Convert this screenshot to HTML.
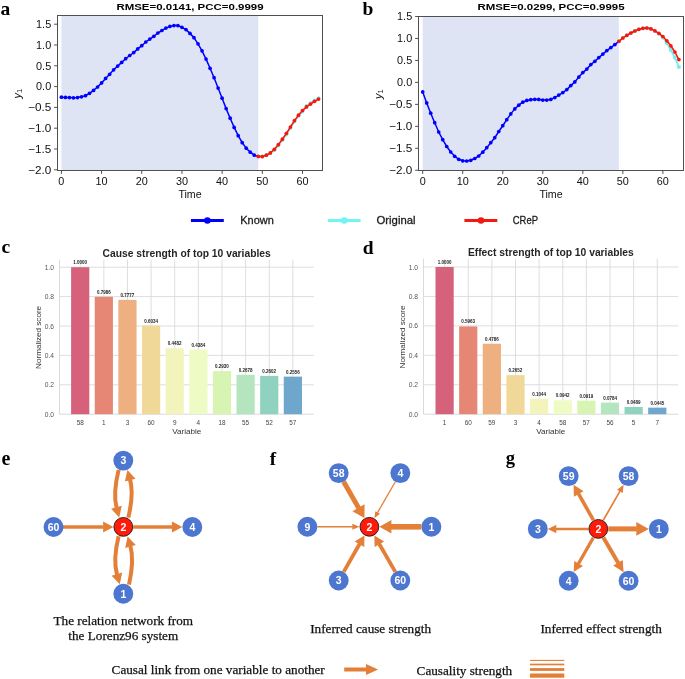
<!DOCTYPE html><html><head><meta charset="utf-8"><style>html,body{margin:0;padding:0;background:#fff;}svg{display:block;will-change:transform;}</style></head><body>
<svg width="685" height="679" viewBox="0 0 685 679">
<rect x="0" y="0" width="685" height="679" fill="#fff"/>
<rect x="61.40" y="15.50" width="196.88" height="155.00" fill="#dfe4f4"/>
<polyline points="258.28,156.40 262.30,156.60 266.32,155.20 270.34,152.90 274.35,150.20 278.37,145.50 282.39,140.10 286.41,134.20 290.43,127.90 294.44,121.50 298.46,116.10 302.48,111.40 306.50,106.10 310.52,103.30 314.53,100.50 318.55,98.30" fill="none" stroke="#6ff0f0" stroke-width="1.8"/>
<circle cx="258.28" cy="156.40" r="2.0" fill="#6ff0f0"/>
<circle cx="262.30" cy="156.60" r="2.0" fill="#6ff0f0"/>
<circle cx="266.32" cy="155.20" r="2.0" fill="#6ff0f0"/>
<circle cx="270.34" cy="152.90" r="2.0" fill="#6ff0f0"/>
<circle cx="274.35" cy="150.20" r="2.0" fill="#6ff0f0"/>
<circle cx="278.37" cy="145.50" r="2.0" fill="#6ff0f0"/>
<circle cx="282.39" cy="140.10" r="2.0" fill="#6ff0f0"/>
<circle cx="286.41" cy="134.20" r="2.0" fill="#6ff0f0"/>
<circle cx="290.43" cy="127.90" r="2.0" fill="#6ff0f0"/>
<circle cx="294.44" cy="121.50" r="2.0" fill="#6ff0f0"/>
<circle cx="298.46" cy="116.10" r="2.0" fill="#6ff0f0"/>
<circle cx="302.48" cy="111.40" r="2.0" fill="#6ff0f0"/>
<circle cx="306.50" cy="106.10" r="2.0" fill="#6ff0f0"/>
<circle cx="310.52" cy="103.30" r="2.0" fill="#6ff0f0"/>
<circle cx="314.53" cy="100.50" r="2.0" fill="#6ff0f0"/>
<circle cx="318.55" cy="98.30" r="2.0" fill="#6ff0f0"/>
<polyline points="61.40,97.20 65.42,97.40 69.44,97.60 73.45,97.80 77.47,97.60 81.49,96.80 85.51,95.70 89.53,93.30 93.54,90.40 97.56,87.00 101.58,82.90 105.60,78.40 109.62,74.30 113.63,69.80 117.65,66.10 121.67,62.40 125.69,58.70 129.71,55.50 133.72,52.60 137.74,48.90 141.76,45.70 145.78,42.00 149.80,39.10 153.81,36.30 157.83,33.00 161.85,30.50 165.87,28.10 169.89,26.40 173.90,25.60 177.92,25.60 181.94,27.30 185.96,29.60 189.98,33.40 193.99,37.70 198.01,43.80 202.03,50.80 206.05,59.10 210.07,68.30 214.08,77.70 218.10,88.10 222.12,98.20 226.14,108.60 230.16,118.20 234.17,127.40 238.19,135.70 242.21,142.70 246.23,148.20 250.25,152.20 254.26,155.20 258.28,156.40" fill="none" stroke="#0000ff" stroke-width="1.5"/>
<circle cx="61.40" cy="97.20" r="1.85" fill="#0000ff"/>
<circle cx="65.42" cy="97.40" r="1.85" fill="#0000ff"/>
<circle cx="69.44" cy="97.60" r="1.85" fill="#0000ff"/>
<circle cx="73.45" cy="97.80" r="1.85" fill="#0000ff"/>
<circle cx="77.47" cy="97.60" r="1.85" fill="#0000ff"/>
<circle cx="81.49" cy="96.80" r="1.85" fill="#0000ff"/>
<circle cx="85.51" cy="95.70" r="1.85" fill="#0000ff"/>
<circle cx="89.53" cy="93.30" r="1.85" fill="#0000ff"/>
<circle cx="93.54" cy="90.40" r="1.85" fill="#0000ff"/>
<circle cx="97.56" cy="87.00" r="1.85" fill="#0000ff"/>
<circle cx="101.58" cy="82.90" r="1.85" fill="#0000ff"/>
<circle cx="105.60" cy="78.40" r="1.85" fill="#0000ff"/>
<circle cx="109.62" cy="74.30" r="1.85" fill="#0000ff"/>
<circle cx="113.63" cy="69.80" r="1.85" fill="#0000ff"/>
<circle cx="117.65" cy="66.10" r="1.85" fill="#0000ff"/>
<circle cx="121.67" cy="62.40" r="1.85" fill="#0000ff"/>
<circle cx="125.69" cy="58.70" r="1.85" fill="#0000ff"/>
<circle cx="129.71" cy="55.50" r="1.85" fill="#0000ff"/>
<circle cx="133.72" cy="52.60" r="1.85" fill="#0000ff"/>
<circle cx="137.74" cy="48.90" r="1.85" fill="#0000ff"/>
<circle cx="141.76" cy="45.70" r="1.85" fill="#0000ff"/>
<circle cx="145.78" cy="42.00" r="1.85" fill="#0000ff"/>
<circle cx="149.80" cy="39.10" r="1.85" fill="#0000ff"/>
<circle cx="153.81" cy="36.30" r="1.85" fill="#0000ff"/>
<circle cx="157.83" cy="33.00" r="1.85" fill="#0000ff"/>
<circle cx="161.85" cy="30.50" r="1.85" fill="#0000ff"/>
<circle cx="165.87" cy="28.10" r="1.85" fill="#0000ff"/>
<circle cx="169.89" cy="26.40" r="1.85" fill="#0000ff"/>
<circle cx="173.90" cy="25.60" r="1.85" fill="#0000ff"/>
<circle cx="177.92" cy="25.60" r="1.85" fill="#0000ff"/>
<circle cx="181.94" cy="27.30" r="1.85" fill="#0000ff"/>
<circle cx="185.96" cy="29.60" r="1.85" fill="#0000ff"/>
<circle cx="189.98" cy="33.40" r="1.85" fill="#0000ff"/>
<circle cx="193.99" cy="37.70" r="1.85" fill="#0000ff"/>
<circle cx="198.01" cy="43.80" r="1.85" fill="#0000ff"/>
<circle cx="202.03" cy="50.80" r="1.85" fill="#0000ff"/>
<circle cx="206.05" cy="59.10" r="1.85" fill="#0000ff"/>
<circle cx="210.07" cy="68.30" r="1.85" fill="#0000ff"/>
<circle cx="214.08" cy="77.70" r="1.85" fill="#0000ff"/>
<circle cx="218.10" cy="88.10" r="1.85" fill="#0000ff"/>
<circle cx="222.12" cy="98.20" r="1.85" fill="#0000ff"/>
<circle cx="226.14" cy="108.60" r="1.85" fill="#0000ff"/>
<circle cx="230.16" cy="118.20" r="1.85" fill="#0000ff"/>
<circle cx="234.17" cy="127.40" r="1.85" fill="#0000ff"/>
<circle cx="238.19" cy="135.70" r="1.85" fill="#0000ff"/>
<circle cx="242.21" cy="142.70" r="1.85" fill="#0000ff"/>
<circle cx="246.23" cy="148.20" r="1.85" fill="#0000ff"/>
<circle cx="250.25" cy="152.20" r="1.85" fill="#0000ff"/>
<circle cx="254.26" cy="155.20" r="1.85" fill="#0000ff"/>
<polyline points="258.28,156.40 262.30,156.60 266.32,155.20 270.34,152.90 274.35,149.30 278.37,144.60 282.39,139.20 286.41,133.30 290.43,127.00 294.44,120.60 298.46,115.20 302.48,110.50 306.50,106.90 310.52,104.10 314.53,101.30 318.55,99.10" fill="none" stroke="#ff1408" stroke-width="1.5"/>
<circle cx="258.28" cy="156.40" r="1.85" fill="#ff1408"/>
<circle cx="262.30" cy="156.60" r="1.85" fill="#ff1408"/>
<circle cx="266.32" cy="155.20" r="1.85" fill="#ff1408"/>
<circle cx="270.34" cy="152.90" r="1.85" fill="#ff1408"/>
<circle cx="274.35" cy="149.30" r="1.85" fill="#ff1408"/>
<circle cx="278.37" cy="144.60" r="1.85" fill="#ff1408"/>
<circle cx="282.39" cy="139.20" r="1.85" fill="#ff1408"/>
<circle cx="286.41" cy="133.30" r="1.85" fill="#ff1408"/>
<circle cx="290.43" cy="127.00" r="1.85" fill="#ff1408"/>
<circle cx="294.44" cy="120.60" r="1.85" fill="#ff1408"/>
<circle cx="298.46" cy="115.20" r="1.85" fill="#ff1408"/>
<circle cx="302.48" cy="110.50" r="1.85" fill="#ff1408"/>
<circle cx="306.50" cy="106.90" r="1.85" fill="#ff1408"/>
<circle cx="310.52" cy="104.10" r="1.85" fill="#ff1408"/>
<circle cx="314.53" cy="101.30" r="1.85" fill="#ff1408"/>
<circle cx="318.55" cy="99.10" r="1.85" fill="#ff1408"/>
<rect x="57.50" y="15.50" width="265.00" height="155.00" fill="none" stroke="#505050" stroke-width="1"/>
<line x1="61.40" y1="170.50" x2="61.40" y2="173.90" stroke="#505050" stroke-width="1"/>
<text x="61.40" y="184.80" font-family='"Liberation Sans", sans-serif' font-size="10.6" font-weight="normal" fill="#111" text-anchor="middle" textLength="6.04" lengthAdjust="spacingAndGlyphs">0</text>
<line x1="101.58" y1="170.50" x2="101.58" y2="173.90" stroke="#505050" stroke-width="1"/>
<text x="101.58" y="184.80" font-family='"Liberation Sans", sans-serif' font-size="10.6" font-weight="normal" fill="#111" text-anchor="middle" textLength="12.09" lengthAdjust="spacingAndGlyphs">10</text>
<line x1="141.76" y1="170.50" x2="141.76" y2="173.90" stroke="#505050" stroke-width="1"/>
<text x="141.76" y="184.80" font-family='"Liberation Sans", sans-serif' font-size="10.6" font-weight="normal" fill="#111" text-anchor="middle" textLength="12.09" lengthAdjust="spacingAndGlyphs">20</text>
<line x1="181.94" y1="170.50" x2="181.94" y2="173.90" stroke="#505050" stroke-width="1"/>
<text x="181.94" y="184.80" font-family='"Liberation Sans", sans-serif' font-size="10.6" font-weight="normal" fill="#111" text-anchor="middle" textLength="12.09" lengthAdjust="spacingAndGlyphs">30</text>
<line x1="222.12" y1="170.50" x2="222.12" y2="173.90" stroke="#505050" stroke-width="1"/>
<text x="222.12" y="184.80" font-family='"Liberation Sans", sans-serif' font-size="10.6" font-weight="normal" fill="#111" text-anchor="middle" textLength="12.09" lengthAdjust="spacingAndGlyphs">40</text>
<line x1="262.30" y1="170.50" x2="262.30" y2="173.90" stroke="#505050" stroke-width="1"/>
<text x="262.30" y="184.80" font-family='"Liberation Sans", sans-serif' font-size="10.6" font-weight="normal" fill="#111" text-anchor="middle" textLength="12.09" lengthAdjust="spacingAndGlyphs">50</text>
<line x1="302.48" y1="170.50" x2="302.48" y2="173.90" stroke="#505050" stroke-width="1"/>
<text x="302.48" y="184.80" font-family='"Liberation Sans", sans-serif' font-size="10.6" font-weight="normal" fill="#111" text-anchor="middle" textLength="12.09" lengthAdjust="spacingAndGlyphs">60</text>
<line x1="54.10" y1="24.20" x2="57.50" y2="24.20" stroke="#505050" stroke-width="1"/>
<text x="51.20" y="27.90" font-family='"Liberation Sans", sans-serif' font-size="10.6" font-weight="normal" fill="#111" text-anchor="end" textLength="15.11" lengthAdjust="spacingAndGlyphs">1.5</text>
<line x1="54.10" y1="45.00" x2="57.50" y2="45.00" stroke="#505050" stroke-width="1"/>
<text x="51.20" y="48.70" font-family='"Liberation Sans", sans-serif' font-size="10.6" font-weight="normal" fill="#111" text-anchor="end" textLength="15.11" lengthAdjust="spacingAndGlyphs">1.0</text>
<line x1="54.10" y1="65.80" x2="57.50" y2="65.80" stroke="#505050" stroke-width="1"/>
<text x="51.20" y="69.50" font-family='"Liberation Sans", sans-serif' font-size="10.6" font-weight="normal" fill="#111" text-anchor="end" textLength="15.11" lengthAdjust="spacingAndGlyphs">0.5</text>
<line x1="54.10" y1="86.60" x2="57.50" y2="86.60" stroke="#505050" stroke-width="1"/>
<text x="51.20" y="90.30" font-family='"Liberation Sans", sans-serif' font-size="10.6" font-weight="normal" fill="#111" text-anchor="end" textLength="15.11" lengthAdjust="spacingAndGlyphs">0.0</text>
<line x1="54.10" y1="107.40" x2="57.50" y2="107.40" stroke="#505050" stroke-width="1"/>
<text x="51.20" y="111.10" font-family='"Liberation Sans", sans-serif' font-size="10.6" font-weight="normal" fill="#111" text-anchor="end" textLength="23.07" lengthAdjust="spacingAndGlyphs">−0.5</text>
<line x1="54.10" y1="128.20" x2="57.50" y2="128.20" stroke="#505050" stroke-width="1"/>
<text x="51.20" y="131.90" font-family='"Liberation Sans", sans-serif' font-size="10.6" font-weight="normal" fill="#111" text-anchor="end" textLength="23.07" lengthAdjust="spacingAndGlyphs">−1.0</text>
<line x1="54.10" y1="149.00" x2="57.50" y2="149.00" stroke="#505050" stroke-width="1"/>
<text x="51.20" y="152.70" font-family='"Liberation Sans", sans-serif' font-size="10.6" font-weight="normal" fill="#111" text-anchor="end" textLength="23.07" lengthAdjust="spacingAndGlyphs">−1.5</text>
<line x1="54.10" y1="169.80" x2="57.50" y2="169.80" stroke="#505050" stroke-width="1"/>
<text x="51.20" y="173.50" font-family='"Liberation Sans", sans-serif' font-size="10.6" font-weight="normal" fill="#111" text-anchor="end" textLength="23.07" lengthAdjust="spacingAndGlyphs">−2.0</text>
<text x="190.00" y="197.50" font-family='"Liberation Sans", sans-serif' font-size="10.6" font-weight="normal" fill="#111" text-anchor="middle" textLength="23.25" lengthAdjust="spacingAndGlyphs">Time</text>
<text x="190.00" y="10.10" font-family='"Liberation Sans", sans-serif' font-size="9.9" font-weight="bold" fill="#000" text-anchor="middle" textLength="147.16" lengthAdjust="spacingAndGlyphs">RMSE=0.0141, PCC=0.9999</text>
<g transform="translate(21.20,93.60) rotate(-90)"><text x="0" y="0" font-family='"Liberation Sans", sans-serif' font-style="italic" font-size="11" fill="#111" text-anchor="middle">y<tspan font-size="7.6" font-style="normal" dy="0.6">1</tspan></text></g>
<text x="0.60" y="14.80" font-family='"Liberation Serif", serif' font-size="19.5" font-weight="bold" fill="#000" text-anchor="start">a</text>
<rect x="422.70" y="16.50" width="196.15" height="154.00" fill="#dfe4f4"/>
<polyline points="618.85,41.30 622.85,38.00 626.85,35.30 630.86,33.00 634.86,31.00 638.86,29.30 642.87,28.30 646.87,28.00 650.87,28.80 654.87,31.00 658.88,33.80 662.88,37.50 666.88,43.30 670.89,50.00 674.89,57.60 678.89,67.10" fill="none" stroke="#6ff0f0" stroke-width="1.8"/>
<circle cx="618.85" cy="41.30" r="2.0" fill="#6ff0f0"/>
<circle cx="622.85" cy="38.00" r="2.0" fill="#6ff0f0"/>
<circle cx="626.85" cy="35.30" r="2.0" fill="#6ff0f0"/>
<circle cx="630.86" cy="33.00" r="2.0" fill="#6ff0f0"/>
<circle cx="634.86" cy="31.00" r="2.0" fill="#6ff0f0"/>
<circle cx="638.86" cy="29.30" r="2.0" fill="#6ff0f0"/>
<circle cx="642.87" cy="28.30" r="2.0" fill="#6ff0f0"/>
<circle cx="646.87" cy="28.00" r="2.0" fill="#6ff0f0"/>
<circle cx="650.87" cy="28.80" r="2.0" fill="#6ff0f0"/>
<circle cx="654.87" cy="31.00" r="2.0" fill="#6ff0f0"/>
<circle cx="658.88" cy="33.80" r="2.0" fill="#6ff0f0"/>
<circle cx="662.88" cy="37.50" r="2.0" fill="#6ff0f0"/>
<circle cx="666.88" cy="43.30" r="2.0" fill="#6ff0f0"/>
<circle cx="670.89" cy="50.00" r="2.0" fill="#6ff0f0"/>
<circle cx="674.89" cy="57.60" r="2.0" fill="#6ff0f0"/>
<circle cx="678.89" cy="67.10" r="2.0" fill="#6ff0f0"/>
<polyline points="422.70,91.90 426.70,102.90 430.71,113.20 434.71,122.70 438.71,132.00 442.71,139.70 446.72,146.50 450.72,152.00 454.72,156.30 458.73,159.30 462.73,160.80 466.73,161.00 470.74,160.30 474.74,158.50 478.74,156.00 482.75,152.20 486.75,147.70 490.75,142.70 494.75,137.70 498.76,131.50 502.76,125.70 506.76,119.70 510.77,113.90 514.77,108.90 518.77,105.20 522.77,102.20 526.78,100.40 530.78,99.70 534.78,99.30 538.79,99.40 542.79,100.10 546.79,100.10 550.80,99.40 554.80,97.60 558.80,95.10 562.81,92.60 566.81,89.60 570.81,85.60 574.81,81.90 578.82,77.10 582.82,72.60 586.82,69.10 590.83,64.60 594.83,61.30 598.83,57.60 602.84,54.10 606.84,50.60 610.84,47.60 614.84,44.60 618.85,41.30" fill="none" stroke="#0000ff" stroke-width="1.5"/>
<circle cx="422.70" cy="91.90" r="1.85" fill="#0000ff"/>
<circle cx="426.70" cy="102.90" r="1.85" fill="#0000ff"/>
<circle cx="430.71" cy="113.20" r="1.85" fill="#0000ff"/>
<circle cx="434.71" cy="122.70" r="1.85" fill="#0000ff"/>
<circle cx="438.71" cy="132.00" r="1.85" fill="#0000ff"/>
<circle cx="442.71" cy="139.70" r="1.85" fill="#0000ff"/>
<circle cx="446.72" cy="146.50" r="1.85" fill="#0000ff"/>
<circle cx="450.72" cy="152.00" r="1.85" fill="#0000ff"/>
<circle cx="454.72" cy="156.30" r="1.85" fill="#0000ff"/>
<circle cx="458.73" cy="159.30" r="1.85" fill="#0000ff"/>
<circle cx="462.73" cy="160.80" r="1.85" fill="#0000ff"/>
<circle cx="466.73" cy="161.00" r="1.85" fill="#0000ff"/>
<circle cx="470.74" cy="160.30" r="1.85" fill="#0000ff"/>
<circle cx="474.74" cy="158.50" r="1.85" fill="#0000ff"/>
<circle cx="478.74" cy="156.00" r="1.85" fill="#0000ff"/>
<circle cx="482.75" cy="152.20" r="1.85" fill="#0000ff"/>
<circle cx="486.75" cy="147.70" r="1.85" fill="#0000ff"/>
<circle cx="490.75" cy="142.70" r="1.85" fill="#0000ff"/>
<circle cx="494.75" cy="137.70" r="1.85" fill="#0000ff"/>
<circle cx="498.76" cy="131.50" r="1.85" fill="#0000ff"/>
<circle cx="502.76" cy="125.70" r="1.85" fill="#0000ff"/>
<circle cx="506.76" cy="119.70" r="1.85" fill="#0000ff"/>
<circle cx="510.77" cy="113.90" r="1.85" fill="#0000ff"/>
<circle cx="514.77" cy="108.90" r="1.85" fill="#0000ff"/>
<circle cx="518.77" cy="105.20" r="1.85" fill="#0000ff"/>
<circle cx="522.77" cy="102.20" r="1.85" fill="#0000ff"/>
<circle cx="526.78" cy="100.40" r="1.85" fill="#0000ff"/>
<circle cx="530.78" cy="99.70" r="1.85" fill="#0000ff"/>
<circle cx="534.78" cy="99.30" r="1.85" fill="#0000ff"/>
<circle cx="538.79" cy="99.40" r="1.85" fill="#0000ff"/>
<circle cx="542.79" cy="100.10" r="1.85" fill="#0000ff"/>
<circle cx="546.79" cy="100.10" r="1.85" fill="#0000ff"/>
<circle cx="550.80" cy="99.40" r="1.85" fill="#0000ff"/>
<circle cx="554.80" cy="97.60" r="1.85" fill="#0000ff"/>
<circle cx="558.80" cy="95.10" r="1.85" fill="#0000ff"/>
<circle cx="562.81" cy="92.60" r="1.85" fill="#0000ff"/>
<circle cx="566.81" cy="89.60" r="1.85" fill="#0000ff"/>
<circle cx="570.81" cy="85.60" r="1.85" fill="#0000ff"/>
<circle cx="574.81" cy="81.90" r="1.85" fill="#0000ff"/>
<circle cx="578.82" cy="77.10" r="1.85" fill="#0000ff"/>
<circle cx="582.82" cy="72.60" r="1.85" fill="#0000ff"/>
<circle cx="586.82" cy="69.10" r="1.85" fill="#0000ff"/>
<circle cx="590.83" cy="64.60" r="1.85" fill="#0000ff"/>
<circle cx="594.83" cy="61.30" r="1.85" fill="#0000ff"/>
<circle cx="598.83" cy="57.60" r="1.85" fill="#0000ff"/>
<circle cx="602.84" cy="54.10" r="1.85" fill="#0000ff"/>
<circle cx="606.84" cy="50.60" r="1.85" fill="#0000ff"/>
<circle cx="610.84" cy="47.60" r="1.85" fill="#0000ff"/>
<circle cx="614.84" cy="44.60" r="1.85" fill="#0000ff"/>
<polyline points="618.85,41.30 622.85,38.00 626.85,35.30 630.86,33.00 634.86,31.00 638.86,29.30 642.87,28.30 646.87,28.00 650.87,28.80 654.87,30.80 658.88,33.30 662.88,36.50 666.88,40.80 670.89,45.80 674.89,52.00 678.89,59.60" fill="none" stroke="#ff1408" stroke-width="1.5"/>
<circle cx="618.85" cy="41.30" r="1.85" fill="#ff1408"/>
<circle cx="622.85" cy="38.00" r="1.85" fill="#ff1408"/>
<circle cx="626.85" cy="35.30" r="1.85" fill="#ff1408"/>
<circle cx="630.86" cy="33.00" r="1.85" fill="#ff1408"/>
<circle cx="634.86" cy="31.00" r="1.85" fill="#ff1408"/>
<circle cx="638.86" cy="29.30" r="1.85" fill="#ff1408"/>
<circle cx="642.87" cy="28.30" r="1.85" fill="#ff1408"/>
<circle cx="646.87" cy="28.00" r="1.85" fill="#ff1408"/>
<circle cx="650.87" cy="28.80" r="1.85" fill="#ff1408"/>
<circle cx="654.87" cy="30.80" r="1.85" fill="#ff1408"/>
<circle cx="658.88" cy="33.30" r="1.85" fill="#ff1408"/>
<circle cx="662.88" cy="36.50" r="1.85" fill="#ff1408"/>
<circle cx="666.88" cy="40.80" r="1.85" fill="#ff1408"/>
<circle cx="670.89" cy="45.80" r="1.85" fill="#ff1408"/>
<circle cx="674.89" cy="52.00" r="1.85" fill="#ff1408"/>
<circle cx="678.89" cy="59.60" r="1.85" fill="#ff1408"/>
<rect x="418.50" y="16.50" width="265.00" height="154.00" fill="none" stroke="#505050" stroke-width="1"/>
<line x1="422.70" y1="170.50" x2="422.70" y2="173.90" stroke="#505050" stroke-width="1"/>
<text x="422.70" y="184.80" font-family='"Liberation Sans", sans-serif' font-size="10.6" font-weight="normal" fill="#111" text-anchor="middle" textLength="6.04" lengthAdjust="spacingAndGlyphs">0</text>
<line x1="462.73" y1="170.50" x2="462.73" y2="173.90" stroke="#505050" stroke-width="1"/>
<text x="462.73" y="184.80" font-family='"Liberation Sans", sans-serif' font-size="10.6" font-weight="normal" fill="#111" text-anchor="middle" textLength="12.09" lengthAdjust="spacingAndGlyphs">10</text>
<line x1="502.76" y1="170.50" x2="502.76" y2="173.90" stroke="#505050" stroke-width="1"/>
<text x="502.76" y="184.80" font-family='"Liberation Sans", sans-serif' font-size="10.6" font-weight="normal" fill="#111" text-anchor="middle" textLength="12.09" lengthAdjust="spacingAndGlyphs">20</text>
<line x1="542.79" y1="170.50" x2="542.79" y2="173.90" stroke="#505050" stroke-width="1"/>
<text x="542.79" y="184.80" font-family='"Liberation Sans", sans-serif' font-size="10.6" font-weight="normal" fill="#111" text-anchor="middle" textLength="12.09" lengthAdjust="spacingAndGlyphs">30</text>
<line x1="582.82" y1="170.50" x2="582.82" y2="173.90" stroke="#505050" stroke-width="1"/>
<text x="582.82" y="184.80" font-family='"Liberation Sans", sans-serif' font-size="10.6" font-weight="normal" fill="#111" text-anchor="middle" textLength="12.09" lengthAdjust="spacingAndGlyphs">40</text>
<line x1="622.85" y1="170.50" x2="622.85" y2="173.90" stroke="#505050" stroke-width="1"/>
<text x="622.85" y="184.80" font-family='"Liberation Sans", sans-serif' font-size="10.6" font-weight="normal" fill="#111" text-anchor="middle" textLength="12.09" lengthAdjust="spacingAndGlyphs">50</text>
<line x1="662.88" y1="170.50" x2="662.88" y2="173.90" stroke="#505050" stroke-width="1"/>
<text x="662.88" y="184.80" font-family='"Liberation Sans", sans-serif' font-size="10.6" font-weight="normal" fill="#111" text-anchor="middle" textLength="12.09" lengthAdjust="spacingAndGlyphs">60</text>
<line x1="415.10" y1="16.49" x2="418.50" y2="16.49" stroke="#505050" stroke-width="1"/>
<text x="412.20" y="20.19" font-family='"Liberation Sans", sans-serif' font-size="10.6" font-weight="normal" fill="#111" text-anchor="end" textLength="15.11" lengthAdjust="spacingAndGlyphs">1.5</text>
<line x1="415.10" y1="38.46" x2="418.50" y2="38.46" stroke="#505050" stroke-width="1"/>
<text x="412.20" y="42.16" font-family='"Liberation Sans", sans-serif' font-size="10.6" font-weight="normal" fill="#111" text-anchor="end" textLength="15.11" lengthAdjust="spacingAndGlyphs">1.0</text>
<line x1="415.10" y1="60.43" x2="418.50" y2="60.43" stroke="#505050" stroke-width="1"/>
<text x="412.20" y="64.13" font-family='"Liberation Sans", sans-serif' font-size="10.6" font-weight="normal" fill="#111" text-anchor="end" textLength="15.11" lengthAdjust="spacingAndGlyphs">0.5</text>
<line x1="415.10" y1="82.40" x2="418.50" y2="82.40" stroke="#505050" stroke-width="1"/>
<text x="412.20" y="86.10" font-family='"Liberation Sans", sans-serif' font-size="10.6" font-weight="normal" fill="#111" text-anchor="end" textLength="15.11" lengthAdjust="spacingAndGlyphs">0.0</text>
<line x1="415.10" y1="104.37" x2="418.50" y2="104.37" stroke="#505050" stroke-width="1"/>
<text x="412.20" y="108.07" font-family='"Liberation Sans", sans-serif' font-size="10.6" font-weight="normal" fill="#111" text-anchor="end" textLength="23.07" lengthAdjust="spacingAndGlyphs">−0.5</text>
<line x1="415.10" y1="126.34" x2="418.50" y2="126.34" stroke="#505050" stroke-width="1"/>
<text x="412.20" y="130.04" font-family='"Liberation Sans", sans-serif' font-size="10.6" font-weight="normal" fill="#111" text-anchor="end" textLength="23.07" lengthAdjust="spacingAndGlyphs">−1.0</text>
<line x1="415.10" y1="148.31" x2="418.50" y2="148.31" stroke="#505050" stroke-width="1"/>
<text x="412.20" y="152.01" font-family='"Liberation Sans", sans-serif' font-size="10.6" font-weight="normal" fill="#111" text-anchor="end" textLength="23.07" lengthAdjust="spacingAndGlyphs">−1.5</text>
<line x1="415.10" y1="170.28" x2="418.50" y2="170.28" stroke="#505050" stroke-width="1"/>
<text x="412.20" y="173.98" font-family='"Liberation Sans", sans-serif' font-size="10.6" font-weight="normal" fill="#111" text-anchor="end" textLength="23.07" lengthAdjust="spacingAndGlyphs">−2.0</text>
<text x="551.00" y="197.50" font-family='"Liberation Sans", sans-serif' font-size="10.6" font-weight="normal" fill="#111" text-anchor="middle" textLength="23.25" lengthAdjust="spacingAndGlyphs">Time</text>
<text x="551.00" y="10.10" font-family='"Liberation Sans", sans-serif' font-size="9.9" font-weight="bold" fill="#000" text-anchor="middle" textLength="147.16" lengthAdjust="spacingAndGlyphs">RMSE=0.0299, PCC=0.9995</text>
<g transform="translate(382.20,94.10) rotate(-90)"><text x="0" y="0" font-family='"Liberation Sans", sans-serif' font-style="italic" font-size="11" fill="#111" text-anchor="middle">y<tspan font-size="7.6" font-style="normal" dy="0.6">1</tspan></text></g>
<text x="362.50" y="14.60" font-family='"Liberation Serif", serif' font-size="19.5" font-weight="bold" fill="#000" text-anchor="start">b</text>
<line x1="190.9" y1="220.5" x2="223.8" y2="220.5" stroke="#0000ff" stroke-width="3.2"/>
<circle cx="207.4" cy="220.5" r="3.3" fill="#0000ff"/>
<text x="240.20" y="223.90" font-family='"Liberation Sans", sans-serif' font-size="11.6" font-weight="normal" fill="#1a1a1a" text-anchor="start" textLength="33.60" lengthAdjust="spacingAndGlyphs" stroke="#1a1a1a" stroke-width="0.3">Known</text>
<line x1="327.8" y1="220.5" x2="360.6" y2="220.5" stroke="#70f4f4" stroke-width="3.2"/>
<circle cx="344.3" cy="220.5" r="3.3" fill="#70f4f4"/>
<text x="376.50" y="223.90" font-family='"Liberation Sans", sans-serif' font-size="11.6" font-weight="normal" fill="#1a1a1a" text-anchor="start" textLength="39.00" lengthAdjust="spacingAndGlyphs" stroke="#1a1a1a" stroke-width="0.3">Original</text>
<line x1="464.4" y1="220.5" x2="497.3" y2="220.5" stroke="#f01a10" stroke-width="3.2"/>
<circle cx="481.0" cy="220.5" r="3.3" fill="#f01a10"/>
<text x="512.80" y="223.90" font-family='"Liberation Sans", sans-serif' font-size="11.6" font-weight="normal" fill="#1a1a1a" text-anchor="start" textLength="25.20" lengthAdjust="spacingAndGlyphs" stroke="#1a1a1a" stroke-width="0.3">CReP</text>
<line x1="59.50" y1="384.80" x2="313.90" y2="384.80" stroke="#dadada" stroke-width="0.9"/>
<line x1="59.50" y1="355.40" x2="313.90" y2="355.40" stroke="#dadada" stroke-width="0.9"/>
<line x1="59.50" y1="326.00" x2="313.90" y2="326.00" stroke="#dadada" stroke-width="0.9"/>
<line x1="59.50" y1="296.60" x2="313.90" y2="296.60" stroke="#dadada" stroke-width="0.9"/>
<line x1="59.50" y1="267.20" x2="313.90" y2="267.20" stroke="#dadada" stroke-width="0.9"/>
<line x1="80.20" y1="259.60" x2="80.20" y2="414.20" stroke="#dadada" stroke-width="0.9"/>
<line x1="103.83" y1="259.60" x2="103.83" y2="414.20" stroke="#dadada" stroke-width="0.9"/>
<line x1="127.46" y1="259.60" x2="127.46" y2="414.20" stroke="#dadada" stroke-width="0.9"/>
<line x1="151.09" y1="259.60" x2="151.09" y2="414.20" stroke="#dadada" stroke-width="0.9"/>
<line x1="174.72" y1="259.60" x2="174.72" y2="414.20" stroke="#dadada" stroke-width="0.9"/>
<line x1="198.35" y1="259.60" x2="198.35" y2="414.20" stroke="#dadada" stroke-width="0.9"/>
<line x1="221.98" y1="259.60" x2="221.98" y2="414.20" stroke="#dadada" stroke-width="0.9"/>
<line x1="245.61" y1="259.60" x2="245.61" y2="414.20" stroke="#dadada" stroke-width="0.9"/>
<line x1="269.24" y1="259.60" x2="269.24" y2="414.20" stroke="#dadada" stroke-width="0.9"/>
<line x1="292.87" y1="259.60" x2="292.87" y2="414.20" stroke="#dadada" stroke-width="0.9"/>
<line x1="59.50" y1="259.60" x2="59.50" y2="414.20" stroke="#dadada" stroke-width="1"/>
<line x1="59.50" y1="414.20" x2="313.90" y2="414.20" stroke="#dadada" stroke-width="1"/>
<rect x="71.10" y="267.20" width="18.20" height="147.00" fill="#d5627a"/>
<text x="80.20" y="264.20" font-family='"Liberation Sans", sans-serif' font-size="4.5" font-weight="bold" fill="#222" text-anchor="middle">1.0000</text>
<text x="80.20" y="425.00" font-family='"Liberation Sans", sans-serif' font-size="6.4" font-weight="normal" fill="#444" text-anchor="middle">58</text>
<rect x="94.73" y="296.81" width="18.20" height="117.39" fill="#e68674"/>
<text x="103.83" y="293.81" font-family='"Liberation Sans", sans-serif' font-size="4.5" font-weight="bold" fill="#222" text-anchor="middle">0.7986</text>
<text x="103.83" y="425.00" font-family='"Liberation Sans", sans-serif' font-size="6.4" font-weight="normal" fill="#444" text-anchor="middle">1</text>
<rect x="118.36" y="299.88" width="18.20" height="114.32" fill="#eeb080"/>
<text x="127.46" y="296.88" font-family='"Liberation Sans", sans-serif' font-size="4.5" font-weight="bold" fill="#222" text-anchor="middle">0.7777</text>
<text x="127.46" y="425.00" font-family='"Liberation Sans", sans-serif' font-size="6.4" font-weight="normal" fill="#444" text-anchor="middle">3</text>
<rect x="141.99" y="325.50" width="18.20" height="88.70" fill="#f0d898"/>
<text x="151.09" y="322.50" font-family='"Liberation Sans", sans-serif' font-size="4.5" font-weight="bold" fill="#222" text-anchor="middle">0.6034</text>
<text x="151.09" y="425.00" font-family='"Liberation Sans", sans-serif' font-size="6.4" font-weight="normal" fill="#444" text-anchor="middle">60</text>
<rect x="165.62" y="348.31" width="18.20" height="65.89" fill="#f3f4bb"/>
<text x="174.72" y="345.31" font-family='"Liberation Sans", sans-serif' font-size="4.5" font-weight="bold" fill="#222" text-anchor="middle">0.4482</text>
<text x="174.72" y="425.00" font-family='"Liberation Sans", sans-serif' font-size="6.4" font-weight="normal" fill="#444" text-anchor="middle">9</text>
<rect x="189.25" y="349.76" width="18.20" height="64.44" fill="#eefbc4"/>
<text x="198.35" y="346.76" font-family='"Liberation Sans", sans-serif' font-size="4.5" font-weight="bold" fill="#222" text-anchor="middle">0.4384</text>
<text x="198.35" y="425.00" font-family='"Liberation Sans", sans-serif' font-size="6.4" font-weight="normal" fill="#444" text-anchor="middle">4</text>
<rect x="212.88" y="371.13" width="18.20" height="43.07" fill="#d8f4b2"/>
<text x="221.98" y="368.13" font-family='"Liberation Sans", sans-serif' font-size="4.5" font-weight="bold" fill="#222" text-anchor="middle">0.2930</text>
<text x="221.98" y="425.00" font-family='"Liberation Sans", sans-serif' font-size="6.4" font-weight="normal" fill="#444" text-anchor="middle">18</text>
<rect x="236.51" y="374.83" width="18.20" height="39.37" fill="#b4e5be"/>
<text x="245.61" y="371.83" font-family='"Liberation Sans", sans-serif' font-size="4.5" font-weight="bold" fill="#222" text-anchor="middle">0.2678</text>
<text x="245.61" y="425.00" font-family='"Liberation Sans", sans-serif' font-size="6.4" font-weight="normal" fill="#444" text-anchor="middle">55</text>
<rect x="260.14" y="375.95" width="18.20" height="38.25" fill="#8fd2bf"/>
<text x="269.24" y="372.95" font-family='"Liberation Sans", sans-serif' font-size="4.5" font-weight="bold" fill="#222" text-anchor="middle">0.2602</text>
<text x="269.24" y="425.00" font-family='"Liberation Sans", sans-serif' font-size="6.4" font-weight="normal" fill="#444" text-anchor="middle">52</text>
<rect x="283.77" y="376.63" width="18.20" height="37.57" fill="#6fa6cb"/>
<text x="292.87" y="373.63" font-family='"Liberation Sans", sans-serif' font-size="4.5" font-weight="bold" fill="#222" text-anchor="middle">0.2556</text>
<text x="292.87" y="425.00" font-family='"Liberation Sans", sans-serif' font-size="6.4" font-weight="normal" fill="#444" text-anchor="middle">57</text>
<text x="54.00" y="416.70" font-family='"Liberation Sans", sans-serif' font-size="6.7" font-weight="normal" fill="#555" text-anchor="end">0.0</text>
<text x="54.00" y="387.30" font-family='"Liberation Sans", sans-serif' font-size="6.7" font-weight="normal" fill="#555" text-anchor="end">0.2</text>
<text x="54.00" y="357.90" font-family='"Liberation Sans", sans-serif' font-size="6.7" font-weight="normal" fill="#555" text-anchor="end">0.4</text>
<text x="54.00" y="328.50" font-family='"Liberation Sans", sans-serif' font-size="6.7" font-weight="normal" fill="#555" text-anchor="end">0.6</text>
<text x="54.00" y="299.10" font-family='"Liberation Sans", sans-serif' font-size="6.7" font-weight="normal" fill="#555" text-anchor="end">0.8</text>
<text x="54.00" y="269.70" font-family='"Liberation Sans", sans-serif' font-size="6.7" font-weight="normal" fill="#555" text-anchor="end">1.0</text>
<text x="186.70" y="433.80" font-family='"Liberation Sans", sans-serif' font-size="8.1" font-weight="normal" fill="#333" text-anchor="middle">Variable</text>
<g transform="translate(41.00,337.40) rotate(-90)"><text x="0" y="0" font-family='"Liberation Sans", sans-serif' font-size="8.1" fill="#333" text-anchor="middle">Normalized score</text></g>
<text x="186.70" y="256.60" font-family='"Liberation Sans", sans-serif' font-size="10.3" font-weight="bold" fill="#262626" text-anchor="middle">Cause strength of top 10 variables</text>
<text x="1.50" y="253.30" font-family='"Liberation Serif", serif' font-size="19.5" font-weight="bold" fill="#000" text-anchor="start">c</text>
<line x1="423.50" y1="384.76" x2="678.20" y2="384.76" stroke="#dadada" stroke-width="0.9"/>
<line x1="423.50" y1="355.32" x2="678.20" y2="355.32" stroke="#dadada" stroke-width="0.9"/>
<line x1="423.50" y1="325.88" x2="678.20" y2="325.88" stroke="#dadada" stroke-width="0.9"/>
<line x1="423.50" y1="296.44" x2="678.20" y2="296.44" stroke="#dadada" stroke-width="0.9"/>
<line x1="423.50" y1="267.00" x2="678.20" y2="267.00" stroke="#dadada" stroke-width="0.9"/>
<line x1="444.60" y1="258.70" x2="444.60" y2="414.20" stroke="#dadada" stroke-width="0.9"/>
<line x1="468.23" y1="258.70" x2="468.23" y2="414.20" stroke="#dadada" stroke-width="0.9"/>
<line x1="491.86" y1="258.70" x2="491.86" y2="414.20" stroke="#dadada" stroke-width="0.9"/>
<line x1="515.49" y1="258.70" x2="515.49" y2="414.20" stroke="#dadada" stroke-width="0.9"/>
<line x1="539.12" y1="258.70" x2="539.12" y2="414.20" stroke="#dadada" stroke-width="0.9"/>
<line x1="562.75" y1="258.70" x2="562.75" y2="414.20" stroke="#dadada" stroke-width="0.9"/>
<line x1="586.38" y1="258.70" x2="586.38" y2="414.20" stroke="#dadada" stroke-width="0.9"/>
<line x1="610.01" y1="258.70" x2="610.01" y2="414.20" stroke="#dadada" stroke-width="0.9"/>
<line x1="633.64" y1="258.70" x2="633.64" y2="414.20" stroke="#dadada" stroke-width="0.9"/>
<line x1="657.27" y1="258.70" x2="657.27" y2="414.20" stroke="#dadada" stroke-width="0.9"/>
<line x1="423.50" y1="258.70" x2="423.50" y2="414.20" stroke="#dadada" stroke-width="1"/>
<line x1="423.50" y1="414.20" x2="678.20" y2="414.20" stroke="#dadada" stroke-width="1"/>
<rect x="435.50" y="267.00" width="18.20" height="147.20" fill="#d5627a"/>
<text x="444.60" y="264.00" font-family='"Liberation Sans", sans-serif' font-size="4.5" font-weight="bold" fill="#222" text-anchor="middle">1.0000</text>
<text x="444.60" y="425.00" font-family='"Liberation Sans", sans-serif' font-size="6.4" font-weight="normal" fill="#444" text-anchor="middle">1</text>
<rect x="459.13" y="326.42" width="18.20" height="87.78" fill="#e68674"/>
<text x="468.23" y="323.42" font-family='"Liberation Sans", sans-serif' font-size="4.5" font-weight="bold" fill="#222" text-anchor="middle">0.5963</text>
<text x="468.23" y="425.00" font-family='"Liberation Sans", sans-serif' font-size="6.4" font-weight="normal" fill="#444" text-anchor="middle">60</text>
<rect x="482.76" y="343.75" width="18.20" height="70.45" fill="#eeb080"/>
<text x="491.86" y="340.75" font-family='"Liberation Sans", sans-serif' font-size="4.5" font-weight="bold" fill="#222" text-anchor="middle">0.4786</text>
<text x="491.86" y="425.00" font-family='"Liberation Sans", sans-serif' font-size="6.4" font-weight="normal" fill="#444" text-anchor="middle">59</text>
<rect x="506.39" y="375.16" width="18.20" height="39.04" fill="#f0d898"/>
<text x="515.49" y="372.16" font-family='"Liberation Sans", sans-serif' font-size="4.5" font-weight="bold" fill="#222" text-anchor="middle">0.2652</text>
<text x="515.49" y="425.00" font-family='"Liberation Sans", sans-serif' font-size="6.4" font-weight="normal" fill="#444" text-anchor="middle">3</text>
<rect x="530.02" y="398.83" width="18.20" height="15.37" fill="#f3f4bb"/>
<text x="539.12" y="395.83" font-family='"Liberation Sans", sans-serif' font-size="4.5" font-weight="bold" fill="#222" text-anchor="middle">0.1044</text>
<text x="539.12" y="425.00" font-family='"Liberation Sans", sans-serif' font-size="6.4" font-weight="normal" fill="#444" text-anchor="middle">4</text>
<rect x="553.65" y="400.33" width="18.20" height="13.87" fill="#eefbc4"/>
<text x="562.75" y="397.33" font-family='"Liberation Sans", sans-serif' font-size="4.5" font-weight="bold" fill="#222" text-anchor="middle">0.0942</text>
<text x="562.75" y="425.00" font-family='"Liberation Sans", sans-serif' font-size="6.4" font-weight="normal" fill="#444" text-anchor="middle">58</text>
<rect x="577.28" y="400.67" width="18.20" height="13.53" fill="#d8f4b2"/>
<text x="586.38" y="397.67" font-family='"Liberation Sans", sans-serif' font-size="4.5" font-weight="bold" fill="#222" text-anchor="middle">0.0919</text>
<text x="586.38" y="425.00" font-family='"Liberation Sans", sans-serif' font-size="6.4" font-weight="normal" fill="#444" text-anchor="middle">57</text>
<rect x="600.91" y="402.66" width="18.20" height="11.54" fill="#b4e5be"/>
<text x="610.01" y="399.66" font-family='"Liberation Sans", sans-serif' font-size="4.5" font-weight="bold" fill="#222" text-anchor="middle">0.0784</text>
<text x="610.01" y="425.00" font-family='"Liberation Sans", sans-serif' font-size="6.4" font-weight="normal" fill="#444" text-anchor="middle">56</text>
<rect x="624.54" y="407.00" width="18.20" height="7.20" fill="#8fd2bf"/>
<text x="633.64" y="404.00" font-family='"Liberation Sans", sans-serif' font-size="4.5" font-weight="bold" fill="#222" text-anchor="middle">0.0489</text>
<text x="633.64" y="425.00" font-family='"Liberation Sans", sans-serif' font-size="6.4" font-weight="normal" fill="#444" text-anchor="middle">5</text>
<rect x="648.17" y="407.65" width="18.20" height="6.55" fill="#6fa6cb"/>
<text x="657.27" y="404.65" font-family='"Liberation Sans", sans-serif' font-size="4.5" font-weight="bold" fill="#222" text-anchor="middle">0.0445</text>
<text x="657.27" y="425.00" font-family='"Liberation Sans", sans-serif' font-size="6.4" font-weight="normal" fill="#444" text-anchor="middle">7</text>
<text x="418.00" y="416.70" font-family='"Liberation Sans", sans-serif' font-size="6.7" font-weight="normal" fill="#555" text-anchor="end">0.0</text>
<text x="418.00" y="387.26" font-family='"Liberation Sans", sans-serif' font-size="6.7" font-weight="normal" fill="#555" text-anchor="end">0.2</text>
<text x="418.00" y="357.82" font-family='"Liberation Sans", sans-serif' font-size="6.7" font-weight="normal" fill="#555" text-anchor="end">0.4</text>
<text x="418.00" y="328.38" font-family='"Liberation Sans", sans-serif' font-size="6.7" font-weight="normal" fill="#555" text-anchor="end">0.6</text>
<text x="418.00" y="298.94" font-family='"Liberation Sans", sans-serif' font-size="6.7" font-weight="normal" fill="#555" text-anchor="end">0.8</text>
<text x="418.00" y="269.50" font-family='"Liberation Sans", sans-serif' font-size="6.7" font-weight="normal" fill="#555" text-anchor="end">1.0</text>
<text x="550.85" y="433.80" font-family='"Liberation Sans", sans-serif' font-size="8.1" font-weight="normal" fill="#333" text-anchor="middle">Variable</text>
<g transform="translate(405.00,336.95) rotate(-90)"><text x="0" y="0" font-family='"Liberation Sans", sans-serif' font-size="8.1" fill="#333" text-anchor="middle">Normalized score</text></g>
<text x="550.85" y="255.70" font-family='"Liberation Sans", sans-serif' font-size="10.3" font-weight="bold" fill="#262626" text-anchor="middle">Effect strength of top 10 variables</text>
<text x="362.80" y="253.50" font-family='"Liberation Serif", serif' font-size="19.5" font-weight="bold" fill="#000" text-anchor="start">d</text>
<line x1="62.60" y1="527.00" x2="103.60" y2="527.00" stroke="#e47f37" stroke-width="3.7"/>
<polygon points="113.40,527.00 103.10,532.50 103.10,521.50" fill="#e47f37"/>
<line x1="133.20" y1="527.00" x2="172.50" y2="527.00" stroke="#e47f37" stroke-width="3.7"/>
<polygon points="182.30,527.00 172.00,532.50 172.00,521.50" fill="#e47f37"/>
<path d="M118.60,469.90 Q112.80,493.80 116.58,507.75" fill="none" stroke="#e47f37" stroke-width="4.0"/>
<polygon points="119.20,517.40 111.14,508.71 121.76,505.83" fill="#e47f37"/>
<path d="M128.30,517.60 Q134.00,493.80 130.07,479.64" fill="none" stroke="#e47f37" stroke-width="4.0"/>
<polygon points="127.40,470.00 135.51,478.65 124.91,481.59" fill="#e47f37"/>
<path d="M118.60,536.30 Q112.80,560.00 117.02,574.59" fill="none" stroke="#e47f37" stroke-width="4.0"/>
<polygon points="119.80,584.20 111.60,575.64 122.17,572.59" fill="#e47f37"/>
<path d="M129.00,584.60 Q134.40,560.00 130.37,546.01" fill="none" stroke="#e47f37" stroke-width="4.0"/>
<polygon points="127.60,536.40 135.79,544.97 125.22,548.01" fill="#e47f37"/>
<circle cx="123.30" cy="460.60" r="9.95" fill="#4c76d0"/>
<text x="123.30" y="464.40" font-family='"Liberation Sans", sans-serif' font-size="10.5" font-weight="bold" fill="#fff" text-anchor="middle">3</text>
<circle cx="53.50" cy="527.00" r="9.95" fill="#4c76d0"/>
<text x="53.50" y="530.80" font-family='"Liberation Sans", sans-serif' font-size="10.5" font-weight="bold" fill="#fff" text-anchor="middle">60</text>
<circle cx="192.30" cy="527.00" r="9.95" fill="#4c76d0"/>
<text x="192.30" y="530.80" font-family='"Liberation Sans", sans-serif' font-size="10.5" font-weight="bold" fill="#fff" text-anchor="middle">4</text>
<circle cx="123.30" cy="593.70" r="9.95" fill="#4c76d0"/>
<text x="123.30" y="597.50" font-family='"Liberation Sans", sans-serif' font-size="10.5" font-weight="bold" fill="#fff" text-anchor="middle">1</text>
<circle cx="123.30" cy="526.90" r="9.4" fill="#ff1a0a" stroke="#1a1a1a" stroke-width="0.9"/>
<text x="123.30" y="530.70" font-family='"Liberation Sans", sans-serif' font-size="10.5" font-weight="bold" fill="#fff" text-anchor="middle">2</text>
<text x="1.60" y="464.60" font-family='"Liberation Serif", serif' font-size="20" font-weight="bold" fill="#000" text-anchor="start">e</text>
<line x1="343.66" y1="481.78" x2="358.73" y2="508.13" stroke="#e47f37" stroke-width="5.0"/>
<polygon points="364.44,518.12 352.40,511.18 364.56,504.23" fill="#e47f37"/>
<line x1="395.31" y1="481.77" x2="377.38" y2="512.93" stroke="#e47f37" stroke-width="1.3"/>
<polygon points="374.39,518.13 375.25,511.13 380.01,513.87" fill="#e47f37"/>
<line x1="317.40" y1="526.80" x2="352.90" y2="526.80" stroke="#e47f37" stroke-width="1.6"/>
<polygon points="359.40,526.80 352.40,529.80 352.40,523.80" fill="#e47f37"/>
<line x1="421.40" y1="526.80" x2="390.90" y2="526.80" stroke="#e47f37" stroke-width="5.6"/>
<polygon points="379.40,526.80 391.40,520.00 391.40,533.60" fill="#e47f37"/>
<line x1="343.66" y1="571.82" x2="359.72" y2="543.73" stroke="#e47f37" stroke-width="3.8"/>
<polygon points="364.44,535.48 364.25,546.89 354.70,541.43" fill="#e47f37"/>
<line x1="395.31" y1="571.83" x2="379.13" y2="543.70" stroke="#e47f37" stroke-width="3.8"/>
<polygon points="374.39,535.47 384.14,541.39 374.61,546.88" fill="#e47f37"/>
<circle cx="338.70" cy="473.10" r="9.95" fill="#4c76d0"/>
<text x="338.70" y="476.90" font-family='"Liberation Sans", sans-serif' font-size="10.5" font-weight="bold" fill="#fff" text-anchor="middle">58</text>
<circle cx="400.30" cy="473.10" r="9.95" fill="#4c76d0"/>
<text x="400.30" y="476.90" font-family='"Liberation Sans", sans-serif' font-size="10.5" font-weight="bold" fill="#fff" text-anchor="middle">4</text>
<circle cx="307.40" cy="526.80" r="9.95" fill="#4c76d0"/>
<text x="307.40" y="530.60" font-family='"Liberation Sans", sans-serif' font-size="10.5" font-weight="bold" fill="#fff" text-anchor="middle">9</text>
<circle cx="431.40" cy="526.80" r="9.95" fill="#4c76d0"/>
<text x="431.40" y="530.60" font-family='"Liberation Sans", sans-serif' font-size="10.5" font-weight="bold" fill="#fff" text-anchor="middle">1</text>
<circle cx="338.70" cy="580.50" r="9.95" fill="#4c76d0"/>
<text x="338.70" y="584.30" font-family='"Liberation Sans", sans-serif' font-size="10.5" font-weight="bold" fill="#fff" text-anchor="middle">3</text>
<circle cx="400.30" cy="580.50" r="9.95" fill="#4c76d0"/>
<text x="400.30" y="584.30" font-family='"Liberation Sans", sans-serif' font-size="10.5" font-weight="bold" fill="#fff" text-anchor="middle">60</text>
<circle cx="369.40" cy="526.80" r="9.4" fill="#ff1a0a" stroke="#1a1a1a" stroke-width="0.9"/>
<text x="369.40" y="530.60" font-family='"Liberation Sans", sans-serif' font-size="10.5" font-weight="bold" fill="#fff" text-anchor="middle">2</text>
<text x="269.80" y="464.60" font-family='"Liberation Serif", serif' font-size="19" font-weight="bold" fill="#000" text-anchor="start">f</text>
<line x1="593.41" y1="520.18" x2="578.48" y2="493.55" stroke="#e47f37" stroke-width="3.6"/>
<polygon points="573.59,484.82 583.52,491.29 573.93,496.67" fill="#e47f37"/>
<line x1="603.28" y1="520.23" x2="620.14" y2="490.84" stroke="#e47f37" stroke-width="1.7"/>
<polygon points="623.62,484.77 622.71,492.90 617.07,489.66" fill="#e47f37"/>
<line x1="588.30" y1="528.90" x2="555.80" y2="528.90" stroke="#e47f37" stroke-width="2.5"/>
<polygon points="547.80,528.90 556.30,524.65 556.30,533.15" fill="#e47f37"/>
<line x1="608.30" y1="528.90" x2="636.80" y2="528.90" stroke="#e47f37" stroke-width="5.0"/>
<polygon points="648.80,528.90 636.30,535.70 636.30,522.10" fill="#e47f37"/>
<line x1="593.35" y1="537.59" x2="578.36" y2="563.86" stroke="#e47f37" stroke-width="3.2"/>
<polygon points="573.65,572.11 574.27,560.95 582.95,565.90" fill="#e47f37"/>
<line x1="603.34" y1="537.54" x2="618.26" y2="563.10" stroke="#e47f37" stroke-width="4.0"/>
<polygon points="623.56,572.16 613.26,565.44 622.76,559.89" fill="#e47f37"/>
<circle cx="568.70" cy="476.10" r="9.95" fill="#4c76d0"/>
<text x="568.70" y="479.90" font-family='"Liberation Sans", sans-serif' font-size="10.5" font-weight="bold" fill="#fff" text-anchor="middle">59</text>
<circle cx="628.60" cy="476.10" r="9.95" fill="#4c76d0"/>
<text x="628.60" y="479.90" font-family='"Liberation Sans", sans-serif' font-size="10.5" font-weight="bold" fill="#fff" text-anchor="middle">58</text>
<circle cx="537.80" cy="528.90" r="9.95" fill="#4c76d0"/>
<text x="537.80" y="532.70" font-family='"Liberation Sans", sans-serif' font-size="10.5" font-weight="bold" fill="#fff" text-anchor="middle">3</text>
<circle cx="658.80" cy="528.90" r="9.95" fill="#4c76d0"/>
<text x="658.80" y="532.70" font-family='"Liberation Sans", sans-serif' font-size="10.5" font-weight="bold" fill="#fff" text-anchor="middle">1</text>
<circle cx="568.70" cy="580.80" r="9.95" fill="#4c76d0"/>
<text x="568.70" y="584.60" font-family='"Liberation Sans", sans-serif' font-size="10.5" font-weight="bold" fill="#fff" text-anchor="middle">4</text>
<circle cx="628.60" cy="580.80" r="9.95" fill="#4c76d0"/>
<text x="628.60" y="584.60" font-family='"Liberation Sans", sans-serif' font-size="10.5" font-weight="bold" fill="#fff" text-anchor="middle">60</text>
<circle cx="598.30" cy="528.90" r="9.4" fill="#ff1a0a" stroke="#1a1a1a" stroke-width="0.9"/>
<text x="598.30" y="532.70" font-family='"Liberation Sans", sans-serif' font-size="10.5" font-weight="bold" fill="#fff" text-anchor="middle">2</text>
<text x="505.80" y="463.90" font-family='"Liberation Serif", serif' font-size="18.5" font-weight="bold" fill="#000" text-anchor="start">g</text>
<text x="123.30" y="624.60" font-family='"Liberation Serif", serif' font-size="13.2" font-weight="normal" fill="#111" text-anchor="middle" stroke="#111" stroke-width="0.25">The relation network from</text>
<text x="123.30" y="640.30" font-family='"Liberation Serif", serif' font-size="13.2" font-weight="normal" fill="#111" text-anchor="middle" stroke="#111" stroke-width="0.25">the Lorenz96 system</text>
<text x="370.60" y="633.30" font-family='"Liberation Serif", serif' font-size="13.2" font-weight="normal" fill="#111" text-anchor="middle" stroke="#111" stroke-width="0.25">Inferred cause strength</text>
<text x="601.10" y="633.20" font-family='"Liberation Serif", serif' font-size="13.2" font-weight="normal" fill="#111" text-anchor="middle" stroke="#111" stroke-width="0.25">Inferred effect strength</text>
<text x="111.60" y="674.20" font-family='"Liberation Serif", serif' font-size="13.2" font-weight="normal" fill="#111" text-anchor="start" stroke="#111" stroke-width="0.25">Causal link from one variable to another</text>
<text x="416.60" y="674.60" font-family='"Liberation Serif", serif' font-size="13.2" font-weight="normal" fill="#111" text-anchor="start" stroke="#111" stroke-width="0.25">Causality strength</text>
<line x1="344.20" y1="669.50" x2="366.50" y2="669.50" stroke="#e47f37" stroke-width="4.0"/>
<polygon points="378.10,669.50 366.00,675.00 366.00,664.00" fill="#e47f37"/>
<rect x="530" y="659.85" width="34.3" height="1.1" fill="#e47f37"/>
<rect x="530" y="663.65" width="34.3" height="1.7" fill="#e47f37"/>
<rect x="530" y="668.10" width="34.3" height="2.8" fill="#e47f37"/>
<rect x="530" y="673.50" width="34.3" height="4.2" fill="#e47f37"/>
</svg></body></html>
